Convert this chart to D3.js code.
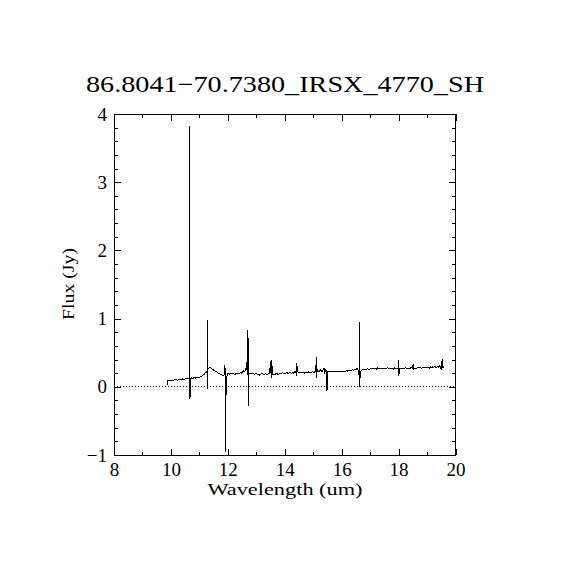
<!DOCTYPE html>
<html>
<head>
<meta charset="utf-8">
<script src="https://cdn.jsdelivr.net/npm/d3@7"></script>
<style>
  body { margin: 0; background: #fff; }
  text { font-family: "Liberation Serif", "DejaVu Serif", serif; fill: #000; }
</style>
</head>
<body>
<div id="chart"></div>
<script>
// spectrum chart
var svgWidth = 570;
var svgHeight = 570;

var margin = {
  top: 114,
  right: 114.5,
  bottom: 115,
  left: 114
};

var width = svgWidth - margin.left - margin.right;
var height = svgHeight - margin.top - margin.bottom;

var titleText = "86.8041\u221270.7380_IRSX_4770_SH";
var xTicks = [8, 10, 12, 14, 16, 18, 20];
var yTicks = [-1, 0, 1, 2, 3, 4];

// wavelength (um) and flux (Jy)
var wave = [
  9.87, 9.88, 9.92, 9.96, 10.00, 10.04, 10.08, 10.12, 10.16, 10.20, 10.24, 10.28, 10.32, 10.36, 10.40,
  10.44, 10.48, 10.52, 10.56, 10.60, 10.67, 10.67, 10.67, 10.68, 10.72, 10.76, 10.80, 10.84, 10.88, 10.92,
  10.96, 11.00, 11.04, 11.08, 11.12, 11.16, 11.20, 11.24, 11.27, 11.27, 11.27, 11.285, 11.32, 11.35, 11.38,
  11.42, 11.46, 11.50, 11.54, 11.58, 11.62, 11.66, 11.70, 11.74, 11.78, 11.82, 11.86, 11.89, 11.90, 11.905,
  11.92, 11.92, 11.935, 11.945, 11.96, 12.00, 12.04, 12.08, 12.12, 12.16, 12.20, 12.24, 12.28, 12.32, 12.36,
  12.40, 12.44, 12.48, 12.52, 12.56, 12.60, 12.64, 12.67, 12.69, 12.70, 12.72, 12.72, 12.74, 12.78, 12.82,
  12.86, 12.90, 12.94, 12.98, 13.02, 13.06, 13.10, 13.14, 13.18, 13.22, 13.26, 13.30, 13.34, 13.38, 13.42,
  13.46, 13.48, 13.50, 13.52, 13.52, 13.55, 13.57, 13.60, 13.64, 13.68, 13.72, 13.76, 13.80, 13.84, 13.88,
  13.92, 13.96, 14.00, 14.04, 14.08, 14.12, 14.16, 14.20, 14.24, 14.28, 14.32, 14.36, 14.40, 14.42, 14.42,
  14.45, 14.47, 14.50, 14.54, 14.58, 14.62, 14.66, 14.70, 14.74, 14.78, 14.82, 14.86, 14.90, 14.94, 14.98,
  15.02, 15.06, 15.09, 15.11, 15.11, 15.14, 15.18, 15.22, 15.26, 15.30, 15.34, 15.38, 15.40, 15.44, 15.48,
  15.485, 15.50, 15.54, 15.58, 15.62, 15.66, 15.70, 15.74, 15.78, 15.82, 15.86, 15.90, 15.94, 15.98, 16.02,
  16.06, 16.10, 16.14, 16.18, 16.22, 16.26, 16.30, 16.34, 16.38, 16.42, 16.46, 16.50, 16.54, 16.58, 16.60,
  16.62, 16.63, 16.63, 16.645, 16.67, 16.70, 16.74, 16.78, 16.82, 16.86, 16.90, 16.94, 16.98, 17.02, 17.06,
  17.10, 17.14, 17.18, 17.22, 17.26, 17.30, 17.34, 17.38, 17.42, 17.46, 17.50, 17.54, 17.58, 17.62, 17.66,
  17.70, 17.74, 17.78, 17.82, 17.86, 17.90, 17.94, 17.98, 18.01, 18.01, 18.04, 18.08, 18.12, 18.16, 18.20,
  18.24, 18.28, 18.32, 18.36, 18.40, 18.44, 18.48, 18.52, 18.52, 18.56, 18.60, 18.64, 18.68, 18.72, 18.76,
  18.80, 18.84, 18.88, 18.92, 18.96, 19.00, 19.04, 19.08, 19.12, 19.16, 19.20, 19.24, 19.28, 19.32, 19.36,
  19.40, 19.44, 19.48, 19.50, 19.53, 19.55, 19.58, 19.61
];
var flux = [
  0.03, 0.09, 0.095, 0.09, 0.10, 0.095, 0.085, 0.10, 0.10, 0.105, 0.095, 0.11, 0.105, 0.10, 0.115,
  0.11, 0.105, 0.12, 0.115, 0.12, 0.125, 3.83, -0.18, 0.10, 0.13, 0.125, 0.13, 0.135, 0.125, 0.14,
  0.13, 0.14, 0.145, 0.15, 0.17, 0.18, 0.20, 0.22, 0.21, 0.98, -0.03, 0.25, 0.27, 0.285, 0.28,
  0.27, 0.26, 0.245, 0.235, 0.22, 0.215, 0.20, 0.195, 0.18, 0.175, 0.17, 0.16, 0.23, 0.32, 0.05,
  0.28, -0.95, 0.10, -0.12, 0.15, 0.19, 0.19, 0.185, 0.20, 0.19, 0.195, 0.18, 0.19, 0.20, 0.19,
  0.20, 0.205, 0.20, 0.215, 0.24, 0.22, 0.28, 0.25, 0.84, 0.18, 0.72, -0.28, 0.20, 0.20, 0.19,
  0.195, 0.19, 0.18, 0.195, 0.19, 0.185, 0.17, 0.185, 0.19, 0.195, 0.18, 0.185, 0.19, 0.17, 0.195,
  0.20, 0.28, 0.21, 0.40, 0.13, 0.33, 0.19, 0.175, 0.18, 0.19, 0.195, 0.18, 0.19, 0.20, 0.195,
  0.21, 0.20, 0.19, 0.20, 0.21, 0.195, 0.205, 0.21, 0.20, 0.215, 0.20, 0.23, 0.20, 0.35, 0.16,
  0.30, 0.20, 0.21, 0.20, 0.215, 0.205, 0.21, 0.20, 0.215, 0.21, 0.22, 0.21, 0.205, 0.215, 0.22,
  0.21, 0.22, 0.24, 0.43, 0.13, 0.25, 0.22, 0.23, 0.25, 0.22, 0.24, 0.27, 0.21, 0.25, 0.24,
  -0.055, 0.22, 0.225, 0.22, 0.22, 0.225, 0.22, 0.225, 0.22, 0.225, 0.23, 0.225, 0.23, 0.225, 0.23,
  0.225, 0.23, 0.23, 0.235, 0.23, 0.24, 0.235, 0.24, 0.25, 0.24, 0.26, 0.25, 0.27, 0.24, 0.20,
  0.15, 0.95, -0.01, 0.13, 0.22, 0.24, 0.255, 0.25, 0.26, 0.255, 0.265, 0.26, 0.255, 0.265, 0.26,
  0.27, 0.26, 0.265, 0.26, 0.275, 0.265, 0.27, 0.26, 0.265, 0.27, 0.275, 0.265, 0.27, 0.28, 0.27,
  0.265, 0.275, 0.27, 0.26, 0.275, 0.27, 0.265, 0.27, 0.39, 0.165, 0.27, 0.265, 0.275, 0.265, 0.27,
  0.28, 0.27, 0.275, 0.265, 0.27, 0.28, 0.275, 0.34, 0.25, 0.27, 0.275, 0.27, 0.285, 0.275, 0.28,
  0.27, 0.285, 0.28, 0.275, 0.29, 0.28, 0.285, 0.275, 0.29, 0.28, 0.295, 0.285, 0.30, 0.28, 0.295,
  0.29, 0.31, 0.28, 0.25, 0.40, 0.27, 0.30, 0.295
];

var svg = d3.select("#chart")
  .append("svg")
  .attr("width", svgWidth)
  .attr("height", svgHeight);

var chartGroup = svg.append("g")
  .attr("transform", `translate(${margin.left}, ${margin.top})`);

var xLinearScale = d3.scaleLinear()
  .domain([8, 20])
  .range([0, width]);

var yLinearScale = d3.scaleLinear()
  .domain([-1, 4])
  .range([height, 0]);

var majorLen = 6.5;
var minorLen = 3.5;

// inward ticks on all four sides, labels only bottom/left
var bottomAxis = d3.axisBottom(xLinearScale).tickValues(xTicks).tickSize(-majorLen).tickFormat(d => d);
var bottomMinor = d3.axisBottom(xLinearScale).tickValues(d3.range(9, 20, 2)).tickSize(-minorLen).tickFormat("");
var topAxis = d3.axisTop(xLinearScale).tickValues(xTicks).tickSize(-majorLen).tickFormat("");
var topMinor = d3.axisTop(xLinearScale).tickValues(d3.range(9, 20, 2)).tickSize(-minorLen).tickFormat("");
var leftAxis = d3.axisLeft(yLinearScale).tickValues(yTicks).tickSize(-majorLen)
  .tickFormat(d => d < 0 ? "\u2212" + Math.abs(d) : d);
var yMinorVals = d3.range(-1, 4.01, 0.2).filter(v => Math.abs(v - Math.round(v)) > 0.01);
var leftMinor = d3.axisLeft(yLinearScale).tickValues(yMinorVals).tickSize(-minorLen).tickFormat("");
var rightAxis = d3.axisRight(yLinearScale).tickValues(yTicks).tickSize(-majorLen).tickFormat("");
var rightMinor = d3.axisRight(yLinearScale).tickValues(yMinorVals).tickSize(-minorLen).tickFormat("");

function styleAxis(g) {
  g.attr("shape-rendering", "crispEdges");
  g.selectAll(".domain").remove();
  g.selectAll("line").attr("stroke", "#000");
  g.selectAll("text").attr("font-size", 19).attr("font-family", "Liberation Serif");
}

var xAxis = chartGroup.append("g")
  .attr("transform", `translate(0, ${height})`)
  .call(bottomAxis)
  .call(styleAxis);
xAxis.selectAll("text").attr("dy", null).attr("y", 21);

chartGroup.append("g").attr("transform", `translate(0, ${height})`).call(bottomMinor).call(styleAxis);
chartGroup.append("g").call(topAxis).call(styleAxis);
chartGroup.append("g").call(topMinor).call(styleAxis);

var yAxis = chartGroup.append("g")
  .call(leftAxis)
  .call(styleAxis);
yAxis.selectAll("text").attr("x", -7);

chartGroup.append("g").call(leftMinor).call(styleAxis);
chartGroup.append("g").attr("transform", `translate(${width}, 0)`).call(rightAxis).call(styleAxis);
chartGroup.append("g").attr("transform", `translate(${width}, 0)`).call(rightMinor).call(styleAxis);

// frame
chartGroup.append("rect")
  .attr("x", 0)
  .attr("y", 0)
  .attr("width", width)
  .attr("height", height)
  .attr("fill", "none")
  .attr("stroke", "#000")
  .attr("shape-rendering", "crispEdges");

// zero line
chartGroup.append("line")
  .attr("x1", xLinearScale(8))
  .attr("x2", xLinearScale(20))
  .attr("y1", yLinearScale(0))
  .attr("y2", yLinearScale(0))
  .attr("stroke", "#000")
  .attr("stroke-dasharray", "1,2")
  .attr("shape-rendering", "crispEdges");

// spectrum
var chartData = wave.map((w, i) => ({ w: w, f: flux[i] }));

var line = d3.line()
  .x(d => xLinearScale(d.w))
  .y(d => yLinearScale(d.f));

chartGroup.append("path")
  .datum(chartData)
  .attr("d", line)
  .attr("fill", "none")
  .attr("stroke", "#000")
  .attr("stroke-width", 1)
  .attr("shape-rendering", "crispEdges");

// title and axis labels
svg.append("text")
  .attr("x", 285)
  .attr("y", 92)
  .attr("text-anchor", "middle")
  .attr("font-size", 23)
  .attr("textLength", 398)
  .attr("lengthAdjust", "spacingAndGlyphs")
  .text(titleText);

svg.append("text")
  .attr("x", 285)
  .attr("y", 495)
  .attr("text-anchor", "middle")
  .attr("font-size", 17)
  .attr("textLength", 155)
  .attr("lengthAdjust", "spacingAndGlyphs")
  .text("Wavelength (um)");

svg.append("text")
  .attr("transform", "translate(74, 284) rotate(-90)")
  .attr("text-anchor", "middle")
  .attr("font-size", 17)
  .attr("textLength", 72)
  .attr("lengthAdjust", "spacingAndGlyphs")
  .text("Flux (Jy)");
</script>
</body>
</html>
